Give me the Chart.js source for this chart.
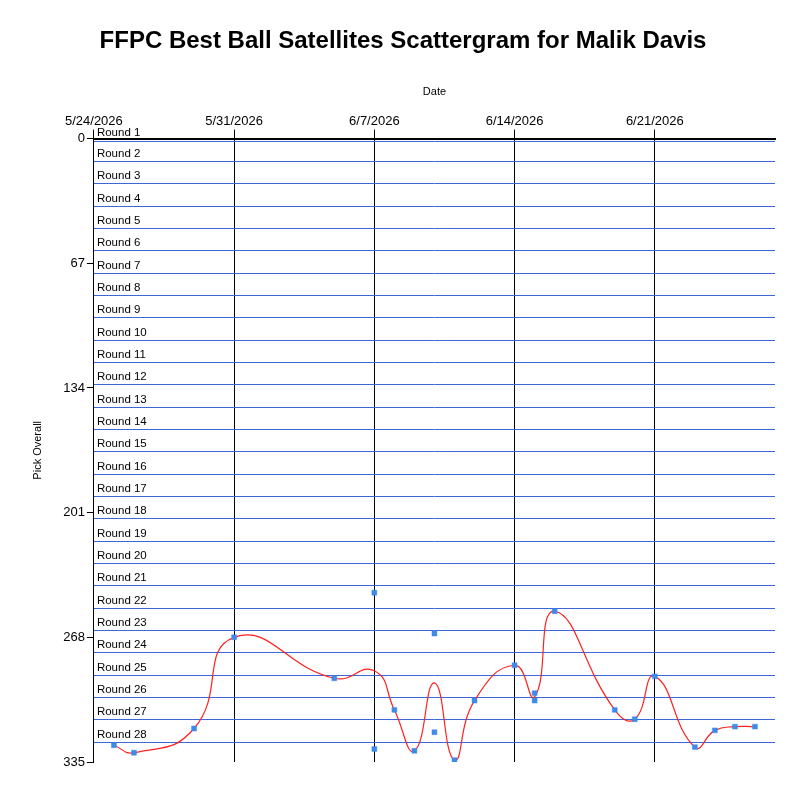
<!DOCTYPE html>
<html>
<head>
<meta charset="utf-8">
<script src="https://cdn.jsdelivr.net/npm/chart.js@4.4.1/dist/chart.umd.min.js"></script>
<style>
  body { margin: 0; background: #fff; }
  #wrap { width: 800px; height: 800px; }
</style>
</head>
<body>
<div id="wrap"><canvas id="scatterChart" width="800" height="800"></canvas></div>
<script>
// Draft dates and the overall pick taken (one entry per draft)
const pickDates = [
  '2026-05-25', '2026-05-26', '2026-05-29', '2026-05-31', '2026-06-05',
  '2026-06-07', '2026-06-07', '2026-06-08', '2026-06-09', '2026-06-10',
  '2026-06-10', '2026-06-11', '2026-06-12', '2026-06-14', '2026-06-15',
  '2026-06-15', '2026-06-16', '2026-06-19', '2026-06-20', '2026-06-21',
  '2026-06-23', '2026-06-24', '2026-06-25', '2026-06-26'
];
const pickOverall = [
  326, 330, 317, 268, 290,
  244, 328, 307, 329, 266,
  319, 334, 302, 283, 298,
  302, 254, 307, 312, 289,
  327, 318, 316, 316
];

const startDate = '2026-05-24';
const endDate = '2026-06-27';
const yTicks = [0, 67, 134, 201, 268, 335];
const roundSize = 12;
const roundLabels = Array.from({ length: 28 }, (_, i) => 'Round ' + (i + 1));

const DAY = 24 * 3600 * 1000;
function dayIndex(iso) {
  return Math.round((Date.parse(iso + 'T00:00:00Z') - Date.parse(startDate + 'T00:00:00Z')) / DAY);
}
function dateLabel(days) {
  const d = new Date(Date.parse(startDate + 'T00:00:00Z') + days * DAY);
  return (d.getUTCMonth() + 1) + '/' + d.getUTCDate() + '/' + d.getUTCFullYear();
}

const scatterPoints = pickDates.map((d, i) => ({ x: dayIndex(d), y: pickOverall[i] }));

// trend line goes through the average pick of each day
const byDay = {};
scatterPoints.forEach(p => {
  if (!byDay[p.x]) byDay[p.x] = [];
  byDay[p.x].push(p.y);
});
const trendPoints = Object.keys(byDay).map(Number).sort((a, b) => a - b).map(x => ({
  x: x,
  y: byDay[x].reduce((a, b) => a + b, 0) / byDay[x].length
}));

const roundLines = {
  id: 'roundLines',
  beforeDatasetsDraw(chart) {
    const { ctx, chartArea } = chart;
    const yScale = chart.scales.y;
    ctx.save();
    ctx.strokeStyle = '#3f66d8';
    ctx.lineWidth = 1;
    ctx.fillStyle = '#000';
    ctx.font = '11.5px "Liberation Sans", Arial, sans-serif';
    ctx.textBaseline = 'bottom';
    roundLabels.forEach((label, i) => {
      const y = Math.round(yScale.getPixelForValue(i * roundSize)) + (i === 0 ? 2.5 : 0.5);
      ctx.beginPath();
      ctx.moveTo(chartArea.left, y);
      ctx.lineTo(chartArea.right, y);
      ctx.stroke();
      ctx.fillText(label, chartArea.left + 3, i === 0 ? y - 3 : y - 2);
    });
    ctx.restore();
  }
};

const tickFont = { family: '"Liberation Sans", Arial, sans-serif', size: 13 };

new Chart(document.getElementById('scatterChart'), {
  type: 'scatter',
  data: {
    datasets: [
      {
        type: 'line',
        label: 'Trend',
        data: trendPoints,
        borderColor: '#ff2020',
        borderWidth: 1.2,
        tension: 0.5,
        pointRadius: 0,
        fill: false,
        order: 2
      },
      {
        label: 'Pick Overall',
        data: scatterPoints,
        pointStyle: 'rect',
        pointRadius: 3.5,
        backgroundColor: '#3e8ae8',
        borderColor: 'rgba(62,138,232,0.45)',
        borderWidth: 1,
        order: 1
      }
    ]
  },
  options: {
    responsive: false,
    animation: false,
    devicePixelRatio: 1,
    layout: { padding: { left: 31, right: 25, bottom: 38, top: 0 } },
    plugins: {
      legend: { display: false },
      tooltip: { enabled: false },
      title: {
        display: true,
        text: 'FFPC Best Ball Satellites Scattergram for Malik Davis',
        color: '#000',
        font: { family: '"Liberation Sans", Arial, sans-serif', size: 24, weight: 'bold' },
        padding: { top: 27, bottom: 30 }
      }
    },
    scales: {
      x: {
        type: 'linear',
        position: 'top',
        min: dayIndex(startDate),
        max: dayIndex(endDate),
        afterBuildTicks(axis) {
          const ticks = [];
          for (let v = axis.min; v < axis.max; v += 7) ticks.push({ value: v });
          axis.ticks = ticks;
        },
        ticks: {
          color: '#000',
          font: tickFont,
          padding: 0,
          maxRotation: 0,
          callback: v => dateLabel(v)
        },
        grid: { color: '#000', lineWidth: 1, tickLength: 9, drawOnChartArea: true },
        border: { color: '#000', width: 2 },
        title: {
          display: true,
          text: 'Date',
          color: '#000',
          font: { family: '"Liberation Sans", Arial, sans-serif', size: 11 },
          padding: { top: 0, bottom: 15 }
        }
      },
      y: {
        reverse: true,
        min: 0,
        max: 335,
        afterBuildTicks(axis) {
          axis.ticks = yTicks.map(v => ({ value: v }));
        },
        ticks: { color: '#000', font: { ...tickFont, size: 13 }, padding: 2 },
        grid: { color: '#000', lineWidth: 1, tickLength: 7, drawOnChartArea: false },
        border: { color: '#000', width: 1 },
        title: {
          display: true,
          text: 'Pick Overall',
          color: '#000',
          font: { family: '"Liberation Sans", Arial, sans-serif', size: 11 },
          padding: { top: 0, bottom: 17 }
        }
      }
    }
  },
  plugins: [roundLines]
});
</script>
</body>
</html>
